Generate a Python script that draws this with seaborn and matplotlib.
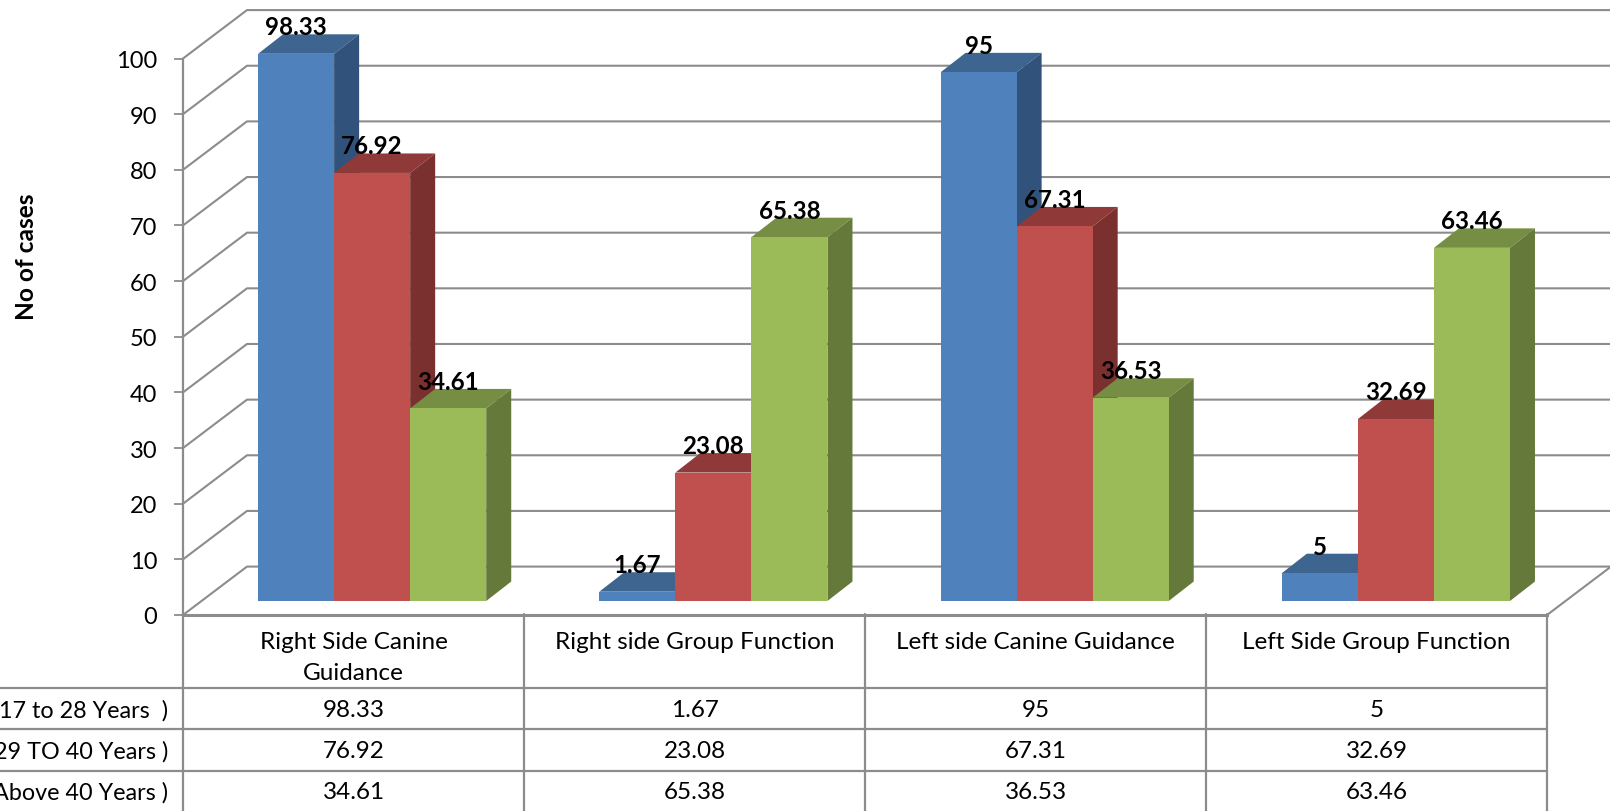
import matplotlib
matplotlib.use("Agg")
import matplotlib.pyplot as plt
import pandas as pd
import seaborn as sns
from matplotlib.lines import Line2D
from matplotlib.patches import Polygon
from matplotlib.transforms import Affine2D, blended_transform_factory

categories = ["Right Side Canine\nGuidance", "Right side Group Function",
              "Left side Canine Guidance", "Left Side Group Function"]
age_groups = ["17 to 28 Years  )", "29 TO 40 Years )", "Above 40 Years )"]
group_young = [98.33, 1.67, 95, 5]
group_middle = [76.92, 23.08, 67.31, 32.69]
group_older = [34.61, 65.38, 36.53, 63.46]
y_ticks = list(range(0, 101, 10))

front_colors = ["#4F81BD", "#C0504D", "#9BBB59"]
top_colors = ["#3E6490", "#8F3A38", "#768E43"]
side_colors = ["#31527A", "#7A302E", "#64793A"]
line_color = "#8C8C8C"

W, H = 1610, 812
sns.set_theme(style="white")
plt.rcParams["font.family"] = ["Lato", "DejaVu Sans"]
plt.rcParams["text.color"] = "black"

fig = plt.figure(figsize=(W / 100, H / 100), dpi=100, facecolor="white")
pixels = Affine2D().scale(1, -1).translate(0, H)


def axes_rect(left, top, right, bottom):
    return [left / W, (H - bottom) / H, (right - left) / W, (bottom - top) / H]


# Front plane of the chart box: holds the value axis and the walls
ax = fig.add_axes(axes_rect(183, 59.5, 1547, 616))
ax.set_xlim(-0.5, 3.5)
ax.set_ylim(0, 100)
ax.set_facecolor("none")
ax.set_yticks(y_ticks)
ax.set_xticks([])
ax.tick_params(axis="y", left=True, length=6.5, width=1.3, color=line_color,
               pad=12, labelsize=17, labelcolor="black")
for name, spine in ax.spines.items():
    spine.set_visible(name in ("left", "bottom"))
    spine.set_color(line_color)
    spine.set_linewidth(1.6 if name == "left" else 2.2)

# Back wall, side wall and floor lines
wall_dx, wall_dy = 64 / 341, 8.7
for v in y_ticks:
    ax.plot([-0.5, -0.5 + wall_dx, 3.5 + wall_dx], [v, v + wall_dy, v + wall_dy],
            color=line_color, lw=1.5, clip_on=False, zorder=1)
ax.plot([3.5, 3.5 + wall_dx], [0, wall_dy], color=line_color, lw=1.5,
        clip_on=False, zorder=1)

# Bars sit part way into the floor, so they get their own shifted axes
bars_ax = fig.add_axes(axes_rect(183 + 18.5, 59 - 13.5, 1547 + 19.5, 615.5 - 13.5))
bars_ax.set_facecolor("none")
frame = pd.DataFrame({
    "category": categories * 3,
    "group": [g for g in age_groups for _ in categories],
    "value": group_young + group_middle + group_older,
})
sns.barplot(data=frame, x="category", y="value", hue="group", hue_order=age_groups,
            order=categories, palette=front_colors, width=0.6686, gap=0,
            saturation=1, legend=False, errorbar=None, linewidth=0, ax=bars_ax)
bars_ax.set_xlim(-0.5, 3.5)
bars_ax.set_ylim(0, 100)
bars_ax.axis("off")

depth_x, depth_y = 25 / 341, 3.5
for i, container in enumerate(bars_ax.containers):
    for patch in container:
        x0 = patch.get_x()
        x1 = x0 + patch.get_width()
        v = patch.get_height()
        patch.set_zorder(3 + 2 * i)
        patch.set_clip_on(False)
        bars_ax.add_patch(Polygon(
            [(x0, v), (x1, v), (x1 + depth_x, v + depth_y), (x0 + depth_x, v + depth_y)],
            closed=True, facecolor=top_colors[i], edgecolor="none",
            zorder=2 + 2 * i, clip_on=False))
        bars_ax.add_patch(Polygon(
            [(x1, 0), (x1, v), (x1 + depth_x, v + depth_y), (x1 + depth_x, depth_y)],
            closed=True, facecolor=side_colors[i], edgecolor="none",
            zorder=2 + 2 * i, clip_on=False))
        value_text = f"{v:g}"
        bars_ax.annotate(value_text, (x0 + patch.get_width() / 2, v), xytext=(0, 19.5),
                         textcoords="offset points", ha="center", va="center",
                         fontsize=17.4, fontweight="bold", color="black",
                         zorder=20, annotation_clip=False)

# Data table under the chart
rule_rows = [688.5, 730, 771.5]
for y in rule_rows:
    fig.add_artist(Line2D([0, 1547], [y, y], color=line_color, lw=1.6, transform=pixels))
x_data_y_pixels = blended_transform_factory(ax.transData, pixels)
for edge in [-0.5, 0.5, 1.5, 2.5, 3.5]:
    ax.plot([edge, edge], [615, H], color=line_color, lw=1.6, clip_on=False,
            transform=x_data_y_pixels)

for i, label in enumerate(categories):
    ax.text(i, 642.5 if "\n" not in label else 658, label, ha="center", va="center",
            fontsize=17.5, linespacing=1.62, transform=x_data_y_pixels, clip_on=False)

row_centres = [711, 752, 793]
rows = [group_young, group_middle, group_older]
for y, name, values in zip(row_centres, age_groups, rows):
    fig.text(168, y, name, ha="right", va="center", fontsize=16.8, transform=pixels)
    for i, v in enumerate(values):
        ax.text(i, y, f"{v:g}", ha="center", va="center", fontsize=17.5,
                transform=x_data_y_pixels, clip_on=False)

fig.text(26, 257, "No of cases", rotation=90, ha="center", va="center",
         fontsize=17.6, fontweight="bold", transform=pixels)

fig.savefig("out.png", dpi=100, facecolor="white")
